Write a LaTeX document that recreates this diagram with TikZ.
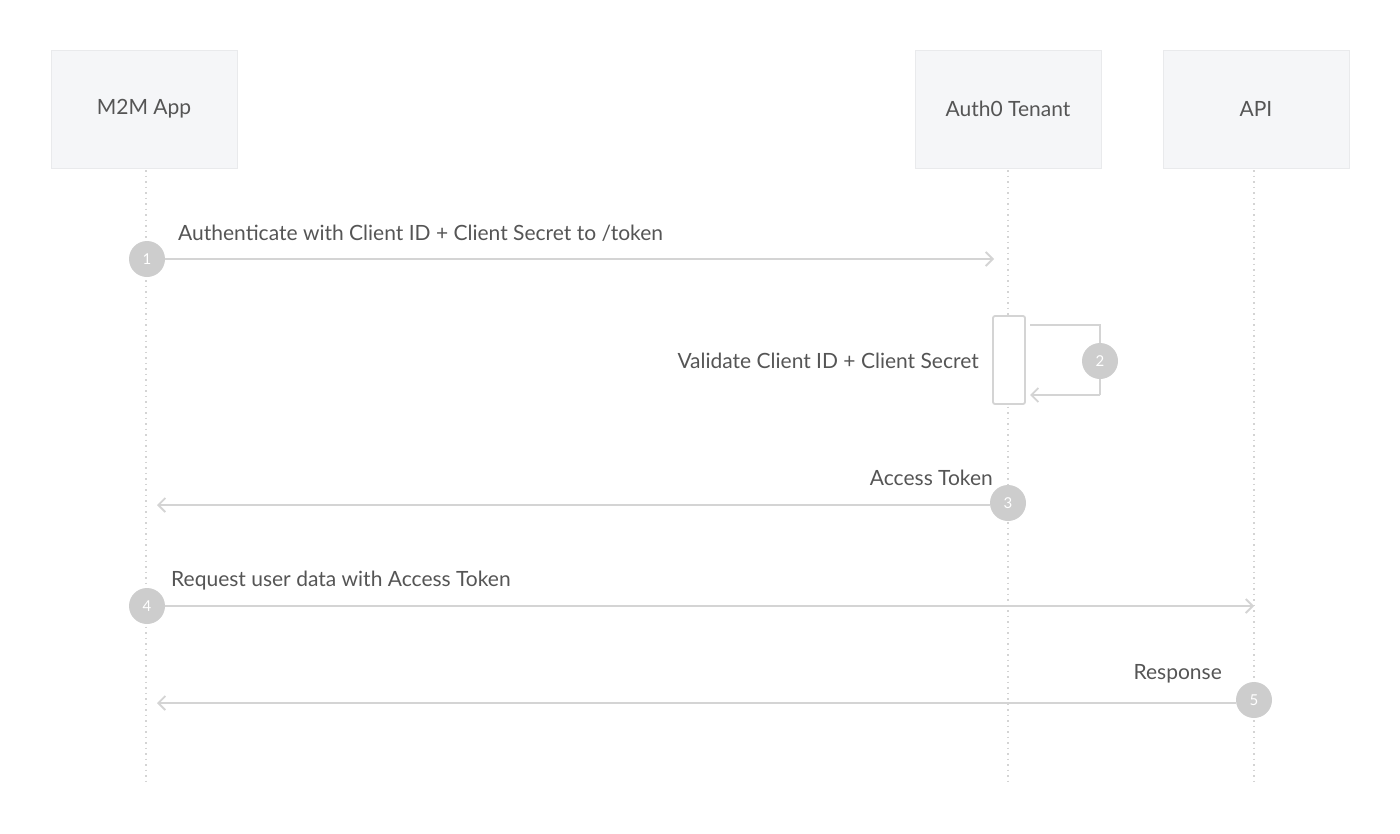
\documentclass[tikz,border=0pt]{standalone}
\usepackage{fontspec}
\setmainfont{Lato}
\usetikzlibrary{arrows.meta}
\definecolor{boxf}{HTML}{F5F6F8}
\definecolor{ln}{HTML}{D4D4D4}
\definecolor{cf}{HTML}{CDCDCD}
\definecolor{tx}{HTML}{555555}
\begin{document}
\begin{tikzpicture}[x=1pt,y=-1pt,
 actor/.style={fill=boxf,draw=boxf!95!black,minimum width=186pt,minimum height=118pt,font=\fontsize{21}{24}\selectfont,text=tx},
 life/.style={draw=ln,line width=1.5pt,dash pattern=on 1.5pt off 4pt},
 num/.style={circle,fill=cf,minimum size=36pt,inner sep=0pt,text=white,font=\fontsize{15}{16}\selectfont},
 msg/.style={draw=ln,line width=1.8pt,-{Straight Barb[length=7pt,width=14pt,line width=1.8pt]}},
 lbl/.style={font=\fontsize{21}{24}\selectfont,text=tx,inner sep=0pt}]
\useasboundingbox (0,0) rectangle (1400,833);
\node[actor] (m2m) at (144,109) {M2M App};
\node[actor] (auth) at (1008,109) {Auth0 Tenant};
\node[actor] (api) at (1256,109) {API};
\coordinate (m2mE) at (146,785);
\coordinate (authE) at (1008,785);
\coordinate (apiE) at (1254,785);
\draw[life] (146,170) -- (m2mE);
\draw[life] (1008,170) -- (authE);
\draw[life] (1254,170) -- (apiE);
% 1
\node[num] (n1) at (147,259) {1};
\coordinate (t1) at (994,259);
\draw[msg] (n1) -- (t1);
\node[lbl,anchor=west] (l1) at (178,233) {Authenticate with Client ID + Client Secret to /token};
% 2
\node[draw=ln,line width=1.8pt,rounded corners=2pt,fill=white,minimum width=32pt,minimum height=88pt,inner sep=0pt] (act) at (1009,360) {};
\coordinate (s1) at (1030,325);
\coordinate (s2) at (1030,395);
\draw[draw=ln,line width=1.8pt] (s1) -- (1100,325) -- (1100,395);
\draw[msg] (1100,395) -- (s2);
\node[num] (n2) at (1100,361) {2};
\node[lbl,anchor=east] (l2) at (979,361) {Validate Client ID + Client Secret};
% 3
\node[num] (n3) at (1008,503) {3};
\coordinate (t3) at (157,505);
\draw[msg] (n3.west|-t3) -- (t3);
\node[lbl,anchor=east] (l3) at (993,478) {Access Token};
% 4
\node[num] (n4) at (147,606) {4};
\coordinate (t4) at (1254,606);
\draw[msg] (n4) -- (t4);
\node[lbl,anchor=west] (l4) at (171,581) {Request user data with Access Token};
% 5
\node[num] (n5) at (1254,700) {5};
\coordinate (t5) at (157,703);
\draw[msg] (n5.west|-t5) -- (t5);
\node[lbl,anchor=east] (l5) at (1222,674) {Response};
\end{tikzpicture}
\end{document}
